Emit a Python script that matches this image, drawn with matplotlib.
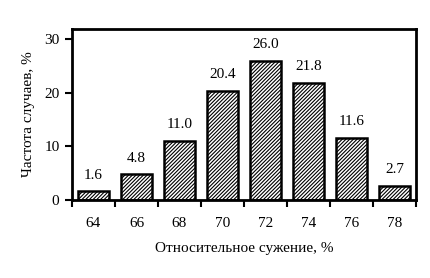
import matplotlib
matplotlib.use('Agg')
import matplotlib.pyplot as plt
import numpy as np

categories = ['64', '66', '68', '70', '72', '74', '76', '78']
values = [1.6, 4.8, 11.0, 20.4, 26.0, 21.8, 11.6, 2.7]
y_ticks = [0, 10, 20, 30]

plt.rcParams['font.family'] = ['Liberation Serif', 'DejaVu Serif']
plt.rcParams['hatch.linewidth'] = 0.8

fig = plt.figure(figsize=(4.3, 2.78), dpi=100)
ax = fig.add_axes([72/430, 1 - 200/278, (416-72)/430, (200-29)/278])

x = np.arange(len(categories))
bars = ax.bar(x, values, width=0.7, color='white', edgecolor='black',
              linewidth=1.8, hatch='/' * 9)

for xi, v in zip(x, values):
    ax.text(xi, v + 1.8, f'{v:.1f}', ha='center', va='bottom', fontsize=11)

ax.set_xlim(-0.5, len(categories) - 0.5)
ax.set_ylim(0, 31.9)
ax.set_yticks(y_ticks)
ax.set_xticks(x)
ax.set_xticklabels(categories)
ax.set_xticks(np.arange(-0.5, len(categories)), minor=True)
ax.tick_params(axis='x', which='major', length=0, pad=12, labelsize=11)
ax.tick_params(axis='x', which='minor', length=5, width=1.5, direction='out')
ax.tick_params(axis='y', length=5, width=1.5, direction='out', labelsize=11, pad=4)

for s in ax.spines.values():
    s.set_linewidth(2)

ax.set_xlabel('Относительное сужение, %', fontsize=11, labelpad=9)
ax.set_ylabel('Частота случаев, %', fontsize=11, labelpad=7)

fig.savefig('out.png', dpi=100)
